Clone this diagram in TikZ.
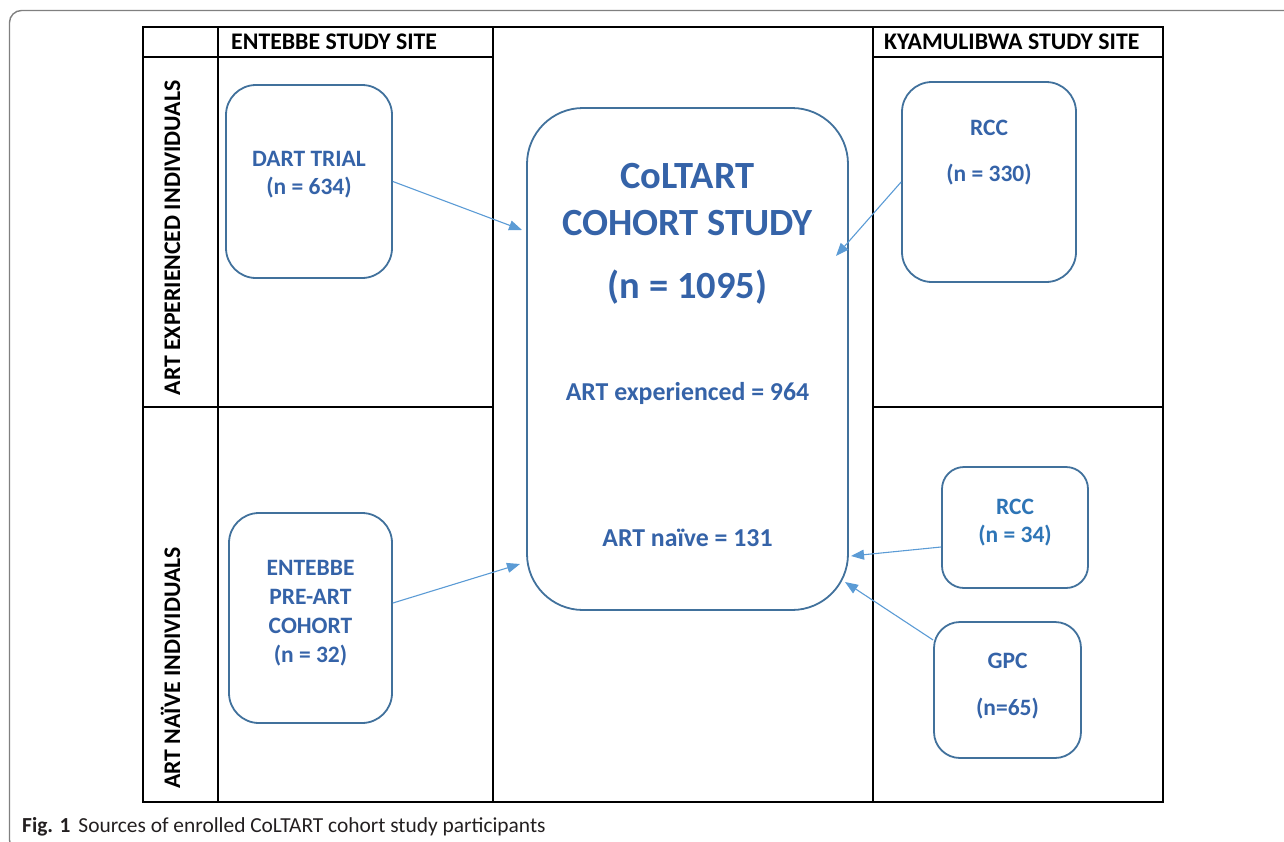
\documentclass[tikz,border=0pt]{standalone}
\usepackage{fontspec}
\setmainfont{Carlito}
\usetikzlibrary{arrows.meta,calc}
\definecolor{boxline}{HTML}{41719C}
\definecolor{txtblue}{HTML}{3563A8}
\definecolor{lightblue}{HTML}{2E75B6}
\definecolor{arrowblue}{HTML}{5B9BD5}
\definecolor{framegray}{HTML}{808080}
\definecolor{captxt}{HTML}{231F20}
\begin{document}
\begin{tikzpicture}[x=1pt,y=-1pt,
  rbox/.style={draw=boxline, line width=1.8pt, inner sep=0pt},
  gridline/.style={line width=2.3pt, black},
  arr/.style={-{Triangle[length=13pt,width=10pt]}, arrowblue, line width=1.1pt},
  hdr/.style={font=\bfseries\fontsize{23.8}{26}\selectfont, anchor=base west, inner sep=0pt},
  vlab/.style={font=\bfseries\fontsize{23.8}{26}\selectfont, anchor=base, rotate=90, inner sep=0pt},
  btxt/.style={font=\bfseries\fontsize{23.5}{26}\selectfont, text=txtblue, anchor=base, inner sep=0pt},
  ctitle/.style={font=\bfseries\fontsize{38.5}{40}\selectfont, text=txtblue, anchor=base, inner sep=0pt},
  csub/.style={font=\bfseries\fontsize{25.8}{28}\selectfont, text=txtblue, anchor=base, inner sep=0pt}]

\useasboundingbox (0,0) rectangle (1284,841);
\begin{scope}
  \clip (0,0) rectangle (1284,841);
  \draw[framegray, line width=1.4pt, rounded corners=12pt] (9.5,10.5) rectangle (1310,852);
\end{scope}

% table grid
\draw[gridline] (143,27) rectangle (1163,802);
\draw[gridline] (218,27) -- (218,802);
\draw[gridline] (493,27) -- (493,802);
\draw[gridline] (873,27) -- (873,802);
\draw[gridline] (143,57) -- (493,57);
\draw[gridline] (873,57) -- (1163,57);
\draw[gridline] (143,407) -- (493,407);
\draw[gridline] (873,407) -- (1163,407);

% headers
\node[hdr] (hE) at (231,49) {ENTEBBE STUDY SITE};
\node[hdr] (hK) at (884,49) {KYAMULIBWA STUDY SITE};
\node[vlab] (vExp) at (180,238) {ART EXPERIENCED INDIVIDUALS};
\node[vlab] (vNai) at (180,668) {ART NAÏVE INDIVIDUALS};

% centre box
\node[rbox, rounded corners=56pt, minimum width=321pt, minimum height=502pt] (cbox) at (687.5,359) {};
\node[ctitle] (c1) at (687.5,188) {CoLTART};
\node[ctitle] (c2) at (687.5,235) {COHORT STUDY};
\node[ctitle] (c3) at (687.5,298) {(n = 1095)};
\node[csub] (c4) at (687.5,400) {ART experienced = 964};
\node[csub] (c5) at (687.5,546) {ART naïve = 131};

% source boxes
\node[rbox, rounded corners=30pt, minimum width=166pt, minimum height=193pt] (dart) at (309,181.5) {};
\node[btxt] (dart1) at (309,166) {DART TRIAL};
\node[btxt] (dart2) at (309,194) {(n = 634)};

\node[rbox, rounded corners=30pt, minimum width=174pt, minimum height=200pt] (rcc1) at (989,182) {};
\node[btxt] (rcc1a) at (989,135) {RCC};
\node[btxt] (rcc1b) at (989,181) {(n = 330)};

\node[rbox, rounded corners=30pt, minimum width=163pt, minimum height=210pt] (ent) at (310.5,618) {};
\node[btxt] (ent1) at (310.5,575) {ENTEBBE};
\node[btxt] (ent2) at (310.5,604) {PRE-ART};
\node[btxt] (ent3) at (310.5,633) {COHORT};
\node[btxt] (ent4) at (310.5,662) {(n = 32)};

\node[rbox, rounded corners=22pt, minimum width=146pt, minimum height=121pt] (rcc2) at (1015,527.5) {};
\node[btxt, text=lightblue] (rcc2a) at (1015,514) {RCC};
\node[btxt, text=lightblue] (rcc2b) at (1015,542) {(n = 34)};

\node[rbox, rounded corners=26pt, minimum width=147pt, minimum height=136pt] (gpc) at (1007.5,690) {};
\node[btxt] (gpc1) at (1007.5,668) {GPC};
\node[btxt] (gpc2) at (1007.5,715) {(n=65)};

% arrow tips
\coordinate (t1) at (522,230);
\coordinate (t2) at (836,256);
\coordinate (t3) at (520,564);
\coordinate (t4) at (851,556);
\coordinate (t5) at (845,582);

\draw[arr] (dart.east) -- (t1);
\draw[arr] (rcc1.west) -- (t2);
\draw[arr] ([yshift=15pt]ent.east) -- (t3);
\draw[arr] ([yshift=-19.5pt]rcc2.west) -- (t4);
\draw[arr] ([yshift=50pt]gpc.west) -- (t5);

% caption
\node[anchor=base west, inner sep=0pt, text=captxt, font=\fontsize{21.4}{23}\selectfont] (cap) at (22,832) {\textbf{Fig. 1}\hspace{8pt}Sources of enrolled CoLTART cohort study participants};
\end{tikzpicture}
\end{document}
